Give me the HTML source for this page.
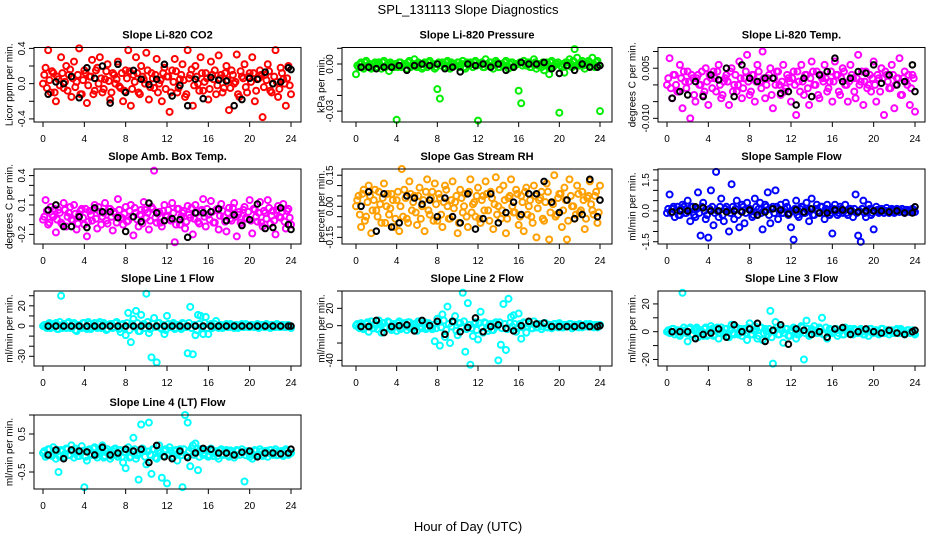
<!DOCTYPE html>
<html><head><meta charset="utf-8"><style>
body{margin:0;background:#fff;}
svg{display:block;font-family:"Liberation Sans",sans-serif;}
</style></head><body>
<svg id="chart" width="936" height="540" viewBox="0 0 936 540" xmlns="http://www.w3.org/2000/svg">
<rect x="0" y="0" width="936" height="540" fill="#fff"/>
<text x="468" y="14" text-anchor="middle" font-size="13">SPL_131113  Slope Diagnostics</text>
<text x="468" y="531" text-anchor="middle" font-size="13">Hour of Day (UTC)</text>
</svg>
<script>
const hours = [0,0.25,0.5,0.75,1,1.25,1.5,1.75,2,2.25,2.5,2.75,3,3.25,3.5,3.75,4,4.25,4.5,4.75,5,5.25,5.5,5.75,6,6.25,6.5,6.75,7,7.25,7.5,7.75,8,8.25,8.5,8.75,9,9.25,9.5,9.75,10,10.25,10.5,10.75,11,11.25,11.5,11.75,12,12.25,12.5,12.75,13,13.25,13.5,13.75,14,14.25,14.5,14.75,15,15.25,15.5,15.75,16,16.25,16.5,16.75,17,17.25,17.5,17.75,18,18.25,18.5,18.75,19,19.25,19.5,19.75,20,20.25,20.5,20.75,21,21.25,21.5,21.75,22,22.25,22.5,22.75,23,23.25,23.5,23.75,24];
const hours2 = [0.125,0.375,0.625,0.875,1.125,1.375,1.625,1.875,2.125,2.375,2.625,2.875,3.125,3.375,3.625,3.875,4.125,4.375,4.625,4.875,5.125,5.375,5.625,5.875,6.125,6.375,6.625,6.875,7.125,7.375,7.625,7.875,8.125,8.375,8.625,8.875,9.125,9.375,9.625,9.875,10.125,10.375,10.625,10.875,11.125,11.375,11.625,11.875,12.125,12.375,12.625,12.875,13.125,13.375,13.625,13.875,14.125,14.375,14.625,14.875,15.125,15.375,15.625,15.875,16.125,16.375,16.625,16.875,17.125,17.375,17.625,17.875,18.125,18.375,18.625,18.875,19.125,19.375,19.625,19.875,20.125,20.375,20.625,20.875,21.125,21.375,21.625,21.875,22.125,22.375,22.625,22.875,23.125,23.375,23.625,23.875];
const blackHours = [0.5,1.25,2.0,2.75,3.5,4.25,5.0,5.75,6.5,7.25,8.0,8.75,9.5,10.25,11.0,11.75,12.5,13.25,14.0,14.75,15.5,16.25,17.0,17.75,18.5,19.25,20.0,20.75,21.5,22.25,23.0,23.75,24.0];
const xTicks = [0,4,8,12,16,20,24];

const co2 = [0.0,0.18,0.38,-0.1,0.12,-0.2,0.05,0.3,-0.05,0.2,0.1,-0.15,0.25,0.02,0.4,-0.12,0.15,
-0.22,0.08,0.27,-0.08,0.18,0.3,-0.1,0.05,0.22,-0.18,0.12,0.0,0.25,-0.05,-0.2,0.15,
0.38,-0.25,0.1,0.3,-0.1,0.2,0.05,0.35,-0.18,0.12,-0.05,0.28,0.0,-0.2,0.18,0.08,
-0.32,0.15,0.28,-0.1,0.05,0.22,-0.15,0.38,0.1,-0.25,0.2,0.0,0.3,-0.08,0.12,-0.18,
0.25,0.05,-0.12,0.32,0.1,-0.05,0.2,-0.3,0.15,0.0,0.33,-0.15,0.08,0.22,-0.1,0.12,
0.3,-0.2,0.05,0.15,-0.38,0.1,0.22,-0.08,0.0,0.38,-0.15,0.18,0.05,-0.25,0.2,-0.12];
const co2B = [0.1,-0.05,0.04,0.14,-0.1,0.08,-0.02,0.12,0.02,-0.08,0.16,0.06,-0.04,0.1,-0.12,0.04,
0.12,-0.02,0.08,-0.12,0.15,0.0,0.06,-0.06,0.14,0.03,-0.1,0.1,0.05,-0.03,0.12,-0.08,
0.06,0.14,-0.06,0.02,0.12,-0.12,0.08,0.0,0.15,-0.04,0.06,0.1,-0.1,0.04,0.12,-0.06,
0.08,-0.1,0.02,0.14,-0.05,0.1,0.04,-0.12,0.06,0.16,-0.02,0.08,-0.08,0.12,0.02,0.06,
-0.06,0.1,0.15,-0.02,0.06,-0.1,0.12,0.04,-0.05,0.1,0.02,-0.12,0.14,0.06,-0.04,0.08,
0.02,0.12,-0.08,0.06,0.1,-0.04,0.04,0.14,-0.1,0.08,0.02,-0.06,0.12,0.0,0.06,-0.02];
const co2Black = [-0.12,0.02,0.0,0.08,-0.16,0.18,0.06,0.2,-0.22,0.22,-0.1,0.15,0.05,-0.01,0.05,0.22,-0.14,-0.02,-0.25,0.05,-0.17,0.07,0.04,0.03,-0.25,-0.18,0.06,0.05,0.13,0.0,0.02,0.18,0.16];

const pressure = [-0.0065,-0.002,0.001,-0.003,0.002,-0.001,-0.003,0.0,-0.002,0.001,-0.003,0.002,-0.001,-0.0045,0.0,-0.002,-0.0355,
0.001,-0.002,0.0,-0.003,0.002,-0.001,0.003,-0.002,0.0,-0.003,0.001,-0.002,0.002,-0.001,-0.003,-0.016,
-0.022,0.001,-0.002,0.002,-0.003,0.0,-0.001,0.001,-0.002,0.002,-0.003,0.0,0.001,-0.002,0.002,-0.036,
0.0,-0.002,0.003,-0.001,0.001,-0.003,0.002,-0.002,0.0,-0.001,0.002,-0.003,0.001,-0.002,0.0,-0.017,
-0.025,0.002,-0.001,0.001,-0.002,0.003,-0.003,0.0,-0.002,-0.004,0.001,-0.0065,0.002,-0.001,0.0,-0.031,
-0.002,-0.0055,0.001,0.003,-0.002,0.0095,0.004,-0.001,0.002,-0.003,0.0,0.001,0.004,-0.002,0.002,-0.03];
const pressureB = [-0.001,0.0,-0.002,0.001,-0.001,0.0,-0.002,0.001,0.0,-0.001,0.001,-0.002,0.0,0.001,-0.001,0.0,
-0.002,0.001,-0.001,0.0,0.001,-0.002,0.0,-0.001,0.001,0.0,-0.002,0.0,0.001,-0.001,0.0,-0.002,
0.001,-0.001,0.0,0.001,-0.002,0.001,0.0,-0.001,0.001,0.0,-0.002,0.001,-0.001,0.0,0.001,-0.001,
0.0,0.001,-0.002,0.0,0.001,-0.001,0.0,0.001,-0.002,0.0,0.001,-0.001,0.0,0.001,-0.001,0.0,
0.001,-0.001,0.0,0.001,-0.002,0.0,0.001,-0.001,0.0,0.001,-0.001,0.0,0.001,-0.002,0.0,0.001,
-0.001,0.0,0.001,-0.001,0.0,0.002,-0.001,0.0,0.001,-0.001,0.0,0.002,-0.001,0.0,0.001,-0.001];
const pressureBlack = [-0.002,-0.002,-0.003,-0.002,-0.002,-0.001,-0.004,-0.001,0.0,-0.001,0.0,-0.003,-0.002,-0.005,0.0,-0.001,0.0,-0.002,0.0,-0.004,-0.002,0.001,0.0,0.0,0.001,-0.003,-0.006,-0.001,-0.004,0.0,-0.002,-0.002,-0.001];

const licorTemp = [0.0,0.008,-0.004,0.003,-0.002,0.006,-0.007,0.001,0.004,-0.01,0.002,-0.005,0.003,0.0,-0.003,0.005,-0.006,
0.002,0.004,-0.002,0.006,-0.004,0.001,0.003,-0.006,0.005,0.0,-0.002,0.007,-0.004,0.002,0.009,-0.003,
0.003,-0.005,0.006,0.001,0.01,-0.004,0.002,0.005,-0.007,0.0,0.004,-0.003,0.006,-0.001,0.002,-0.005,
0.004,-0.009,0.001,0.006,-0.003,0.003,-0.006,0.007,0.0,0.004,-0.004,0.002,0.006,-0.002,0.001,-0.005,
0.007,0.003,-0.003,0.005,0.0,-0.005,0.006,0.002,-0.004,0.009,0.001,-0.006,0.004,0.0,-0.002,0.007,
-0.005,0.002,0.005,-0.009,0.003,-0.001,0.006,-0.007,0.002,0.008,-0.003,0.004,0.0,-0.006,0.003,-0.008];
const licorTempB = [0.002,-0.001,0.003,0.0,-0.002,0.002,0.004,-0.001,0.001,0.003,-0.003,0.002,0.0,0.004,-0.002,0.001,
0.003,-0.001,0.002,0.004,0.0,-0.003,0.002,0.001,0.004,-0.002,0.003,0.0,0.002,-0.001,0.004,0.001,
-0.002,0.003,0.001,0.004,-0.001,0.002,0.0,0.003,-0.003,0.002,0.004,0.0,0.001,-0.002,0.003,0.001,
0.002,0.0,0.004,-0.002,0.001,0.003,-0.001,0.002,0.004,0.0,-0.003,0.003,0.001,0.002,-0.001,0.004,
0.001,0.003,-0.002,0.002,0.004,0.0,0.001,0.003,-0.002,0.002,0.0,0.004,0.001,-0.001,0.003,0.002,
0.0,0.003,-0.002,0.002,0.004,0.001,-0.001,0.003,0.0,0.002,-0.003,0.002,0.001,0.003,-0.001,0.002];
const licorTempBlack = [-0.004,-0.002,-0.003,0.001,-0.0035,0.003,0.0015,0.005,-0.0035,0.006,0.002,0.001,0.002,0.002,-0.0025,-0.002,-0.006,0.002,-0.0035,0.003,0.004,0.008,0.001,0.002,0.004,0.0035,0.006,0.0005,0.003,0.0,0.001,0.006,-0.002];

const ambTemp = [-0.05,0.15,-0.1,0.08,-0.02,-0.18,0.05,-0.08,0.12,-0.12,0.02,-0.05,0.1,-0.15,0.0,0.06,-0.1,
-0.22,0.04,-0.06,0.1,-0.14,0.03,-0.02,0.12,-0.09,0.06,-0.16,0.01,0.16,-0.04,-0.1,0.08,
-0.06,0.1,-0.21,0.02,-0.12,0.05,0.13,-0.03,-0.15,0.08,0.45,-0.08,0.03,-0.12,0.1,-0.02,
-0.05,0.12,-0.28,0.06,-0.1,0.02,-0.14,0.09,-0.03,-0.2,0.1,-0.07,0.04,0.16,-0.12,0.0,
0.14,-0.08,0.05,-0.15,0.11,-0.02,-0.17,0.07,-0.06,0.12,-0.22,0.03,-0.1,0.08,-0.04,0.15,
-0.19,0.05,-0.07,0.13,-0.12,0.02,0.15,-0.09,0.04,-0.2,0.09,-0.03,0.11,-0.14,0.06,-0.1];
const ambTempB = [-0.02,0.04,-0.08,0.0,0.06,-0.05,0.02,-0.1,0.05,-0.02,0.08,-0.06,0.01,-0.09,0.04,-0.03,
0.06,-0.07,0.0,0.05,-0.04,0.08,-0.1,0.02,-0.06,0.06,-0.02,0.03,-0.08,0.05,-0.03,0.01,
-0.07,0.04,-0.02,0.07,-0.05,0.0,-0.09,0.05,0.02,-0.06,0.06,-0.03,0.01,-0.08,0.04,-0.01,
0.05,-0.06,0.02,-0.1,0.06,-0.02,0.04,-0.07,0.0,0.07,-0.04,0.02,-0.09,0.05,-0.02,0.06,
-0.05,0.03,-0.08,0.06,-0.01,0.04,-0.07,0.02,-0.04,0.07,-0.02,0.0,-0.08,0.05,-0.03,0.03,
-0.06,0.06,-0.02,0.02,-0.08,0.04,-0.04,0.07,-0.01,-0.06,0.05,-0.02,0.03,-0.07,0.04,-0.03];
const ambTempBlack = [0.05,0.1,-0.12,-0.12,-0.02,-0.13,0.07,0.03,0.03,-0.03,-0.17,-0.02,-0.07,0.12,0.02,-0.06,-0.04,-0.05,-0.23,0.02,0.02,0.03,0.06,-0.06,0.0,-0.11,-0.05,0.11,-0.14,-0.13,0.07,-0.1,-0.15];

const gasRH = [0.0,0.05,-0.1,0.08,-0.05,0.1,-0.13,0.03,-0.02,0.07,-0.08,0.11,0.0,-0.04,0.06,-0.1,0.03,
-0.12,0.18,0.08,-0.06,0.12,-0.02,0.05,-0.09,0.09,0.0,-0.12,0.13,-0.04,0.07,0.11,-0.07,
0.04,-0.1,0.1,0.0,-0.06,0.12,0.02,-0.13,0.08,-0.03,0.06,-0.1,0.13,0.01,-0.05,0.09,
-0.08,0.05,0.12,-0.02,0.07,-0.11,0.14,0.0,-0.06,0.1,-0.13,0.04,0.13,-0.03,0.08,-0.09,
0.05,-0.12,0.09,0.0,-0.05,0.1,-0.15,0.03,0.07,-0.07,0.11,-0.16,0.02,0.15,-0.04,0.06,
-0.1,0.09,-0.16,0.13,0.0,-0.06,0.1,-0.03,0.07,-0.11,0.04,0.12,-0.02,0.05,-0.08,0.1];
const gasRHB = [0.03,-0.04,0.06,-0.07,0.02,0.05,-0.02,0.08,-0.05,0.01,0.04,-0.08,0.06,-0.01,0.03,-0.06,
0.07,0.0,-0.05,0.04,-0.08,0.06,0.02,-0.03,0.05,-0.06,0.03,0.07,-0.02,0.04,-0.07,0.01,
0.06,-0.04,0.02,0.08,-0.06,0.03,-0.01,0.05,-0.08,0.04,0.0,-0.05,0.07,-0.03,0.02,0.05,
-0.06,0.03,-0.02,0.06,-0.07,0.04,0.01,-0.04,0.08,-0.02,0.03,-0.06,0.05,0.0,-0.03,0.06,
-0.05,0.02,0.07,-0.04,0.03,-0.08,0.05,-0.01,0.04,-0.06,0.02,0.07,-0.03,0.01,-0.05,0.04,
0.06,-0.02,0.03,-0.07,0.05,0.0,-0.04,0.06,-0.02,0.03,-0.06,0.05,0.01,-0.04,0.07,-0.03];
const gasRHBlack = [0.0,0.07,-0.12,0.06,-0.1,-0.08,0.05,0.04,0.01,0.03,-0.05,0.04,-0.05,-0.08,0.06,-0.11,-0.06,0.06,-0.08,-0.03,0.02,-0.04,0.06,0.06,0.12,0.02,-0.03,0.03,-0.06,-0.04,0.13,-0.05,0.03];

const sampleFlow = [-0.1,0.8,0.1,-0.3,0.2,-0.2,0.3,-0.1,0.5,-0.5,0.2,-0.3,0.9,-1.2,0.4,-0.4,-1.3,
1.0,-0.7,1.9,-0.3,0.6,-0.5,0.2,-1.0,1.3,-0.4,0.5,-0.8,0.3,-0.6,0.4,0.1,
-0.3,0.6,-0.2,0.4,-0.9,0.3,0.9,-0.6,0.2,1.0,-0.4,0.3,-0.1,0.4,-0.2,-0.8,
-1.4,0.5,-0.3,0.2,-0.1,0.4,-0.5,0.6,-0.2,0.3,-0.1,0.2,-0.4,0.3,-0.2,-1.1,
0.3,-0.2,0.2,-0.1,0.3,-0.2,0.1,-0.3,0.8,-1.2,-1.5,0.5,-0.3,0.3,-0.2,-0.9,
0.2,-0.1,0.1,-0.1,0.15,-0.1,0.1,-0.1,0.1,-0.05,0.1,-0.1,0.05,-0.05,0.1,-0.05];
const sampleFlowB = [0.1,-0.1,0.2,0.0,-0.2,0.1,0.2,-0.1,0.0,0.2,-0.2,0.1,-0.1,0.2,0.0,-0.2,
0.1,0.2,-0.1,0.0,0.2,-0.2,0.1,0.0,-0.1,0.2,0.1,-0.2,0.0,0.2,-0.1,0.1,
0.0,-0.2,0.2,0.1,-0.1,0.0,0.2,-0.2,0.1,-0.1,0.2,0.0,-0.1,0.1,0.2,-0.1,
0.0,0.1,-0.2,0.1,0.2,-0.1,0.0,0.1,-0.2,0.1,0.0,0.2,-0.1,0.1,0.0,-0.1,
0.1,0.0,-0.1,0.1,0.0,-0.1,0.1,0.0,0.1,-0.1,0.0,0.1,-0.1,0.0,0.1,-0.1,
0.0,0.05,-0.05,0.05,0.0,-0.05,0.05,0.0,-0.05,0.05,0.0,-0.05,0.05,0.0,-0.05,0.05];
const sampleFlowBlack = [-0.05,0.0,0.0,0.2,0.15,0.0,0.0,-0.05,0.0,-0.05,0.05,-0.2,-0.05,0.1,0.05,-0.15,0.05,-0.05,0.1,-0.1,-0.1,0.05,0.05,0.0,-0.05,0.0,0.0,0.0,-0.05,0.0,-0.1,-0.1,0.2];

const line1 = [0,-1,2,-2,1,3,-3,30,2,-2,4,-1,3,-5,1,-2,3,
-3,2,-1,3,-2,4,-1,1,-3,2,-2,3,-1,-6,2,-9,
13,-16,7,15,-5,11,2,32,-7,-31,8,-36,3,-3,-8,10,
-1,2,-3,1,-2,3,-1,-27,19,-28,-9,11,10,-8,9,-8,
2,-1,5,-2,1,-1,2,-1,1,-2,1,-1,2,-1,1,-1,
1,-1,2,-1,1,-1,1,-2,1,-1,1,-1,1,-1,1,-2];
const line1B = [1,-2,3,-1,2,-3,4,-2,1,3,-2,2,-4,1,-1,3,
-2,4,-3,1,-1,2,-2,3,-4,1,2,-1,4,-3,1,-2,
3,-4,2,-1,3,-5,1,-2,4,-3,2,-1,3,-2,1,-4,
2,-1,3,-2,1,-3,2,-1,3,-2,1,-4,2,-1,3,-2,
1,-2,2,-1,1,-2,1,-1,2,-1,1,-2,1,-1,2,-1,
1,-1,1,-2,1,-1,2,-1,1,-1,2,-1,1,-1,1,-1];
const line1Black = [0,0,0,0,0,0,0,0,0,0,0,0,0,0,0,0,0,0,0,0,0,0,0,0,0,0,0,0,0,0,0,0,0];

const line2 = [0,-2,3,-4,2,-7,5,-3,1,6,-8,3,-2,4,-5,2,-6,
5,-2,3,-5,4,-1,2,-6,3,-3,4,-2,1,-4,-18,8,
-23,13,-13,22,-20,5,11,-11,3,38,-30,26,-45,-12,4,-16,
16,-8,3,-6,2,-5,4,-40,-22,25,-28,31,10,12,-7,14,
-15,4,-8,3,-3,5,-2,2,-4,3,-2,1,-3,2,-1,3,
-2,1,-1,2,-3,1,-1,2,-2,1,-1,2,-1,1,-2,1];
const line2B = [2,-3,1,-2,4,-1,-3,2,-4,1,3,-2,5,-3,1,-1,
3,-4,2,-1,4,-3,1,-2,5,-1,2,-4,3,-2,1,-3,
4,-2,6,-5,2,-1,4,-6,3,-2,5,-4,1,-3,2,-5,
3,-2,4,-3,1,-5,2,-1,4,-3,2,-4,3,-1,2,-3,
2,-2,3,-1,2,-3,1,-2,2,-1,3,-2,1,-1,2,-2,
1,-2,1,-1,2,-1,1,-2,1,-1,2,-1,1,-2,1,-1];
const line2Black = [-1,-1,6,-8,-1,0,1,-6,6,0,5,-10,5,-7,-2,9,-7,-1,1,-3,-6,0,5,2,3,-1,-1,-1,-1,0,-1,-1,0];

const line3 = [0,-1,2,-2,1,-3,28,1,-7,3,-2,2,-4,1,-3,3,-2,
4,-3,2,-5,3,-1,2,-4,5,-2,3,-1,-3,2,-6,6,
-2,4,-5,3,-6,2,-2,15,-23,7,-2,3,-8,2,-3,1,
3,-5,-2,4,-20,8,-3,2,4,-1,3,10,-2,-5,2,-1,
2,-3,1,-2,3,-1,2,-2,1,-1,2,-2,1,-3,2,-1,
1,-2,2,-1,1,-2,1,-1,2,-1,1,-2,1,-1,1,-2];
const line3B = [1,-1,2,0,-2,1,3,-1,2,-2,1,3,-1,0,2,-3,
1,2,-2,3,-1,0,2,-3,1,-1,3,-2,2,0,-1,3,
-2,1,2,-3,3,-1,0,2,-4,1,3,-2,1,-1,2,-3,
1,2,-2,0,3,-1,2,-2,1,0,-1,2,-2,3,-1,1,
0,2,-1,1,-2,2,0,-1,2,-1,1,0,-2,1,2,-1,
1,0,-1,2,-1,1,0,-1,1,-1,2,0,-1,1,0,-1];
const line3Black = [0,0,0,-5,-2,-1,2,-4,5,0,2,6,-7,1,5,-9,2,1,-2,0,-4,2,3,-2,0,2,0,-1,1,-1,-2,0,1];

const line4 = [0.0,-0.1,0.1,-0.05,0.15,-0.15,-0.5,0.08,-0.1,0.12,-0.05,0.2,-0.12,0.05,-0.08,0.18,-0.9,
-0.2,0.1,-0.05,0.15,-0.12,0.05,0.2,-0.08,0.1,-0.15,0.05,0.12,-0.1,0.08,-0.25,-0.4,
0.15,-0.1,0.4,-0.15,-0.7,0.75,0.05,-0.3,0.8,-0.55,0.1,-0.15,0.2,-0.65,0.05,-0.8,
0.15,-0.1,0.05,-0.2,0.1,-0.9,1.0,0.8,-0.35,0.2,0.25,-0.45,0.1,-0.05,0.08,-0.1,
0.12,-0.08,0.05,-0.15,0.1,-0.05,0.08,-0.1,0.05,-0.12,0.08,-0.05,0.1,-0.75,0.05,-0.1,
-0.15,0.08,-0.05,0.1,-0.08,0.05,-0.1,0.08,-0.05,0.1,-0.05,0.05,-0.08,0.1,-0.05,0.0];
const line4B = [0.05,-0.05,0.1,-0.08,0.02,0.08,-0.1,0.05,-0.02,0.1,-0.06,0.04,0.12,-0.08,0.0,0.06,
-0.1,0.08,-0.03,0.12,-0.06,0.02,0.1,-0.12,0.05,0.0,-0.08,0.1,-0.04,0.06,-0.1,0.02,
0.08,-0.12,0.05,0.1,-0.06,0.0,0.12,-0.1,0.04,-0.05,0.1,-0.12,0.06,0.0,-0.08,0.1,
-0.04,0.06,-0.1,0.08,0.0,-0.06,0.1,-0.08,0.04,0.12,-0.05,0.02,-0.1,0.06,0.0,0.08,
-0.06,0.05,0.0,-0.08,0.06,-0.03,0.04,-0.06,0.07,0.0,-0.05,0.06,-0.04,0.03,-0.06,0.05,
0.02,-0.06,0.06,-0.03,0.04,-0.05,0.06,0.0,-0.04,0.05,-0.06,0.03,0.05,-0.04,0.06,-0.02];
const line4Black = [-0.05,0.08,-0.15,0.08,0.05,0.03,-0.05,0.15,-0.05,0.0,0.1,0.05,0.1,-0.25,0.2,-0.1,-0.15,0.05,-0.12,0.0,0.12,0.1,0.0,0.0,-0.05,0.02,0.05,-0.1,0.0,0.0,-0.02,0.0,0.1];

const titles = ["Slope Li-820 CO2","Slope Li-820 Pressure","Slope Li-820 Temp.","Slope Amb. Box Temp.","Slope Gas Stream RH","Slope Sample Flow","Slope Line 1 Flow","Slope Line 2 Flow","Slope Line 3 Flow","Slope Line 4 (LT) Flow"];
const yTitles = ["Licor ppm per min.","kPa per min.","degrees C per min.","degrees C per min.","percent per min.","ml/min per min.","ml/min per min.","ml/min per min.","ml/min per min.","ml/min per min."];
const yTicks = [[-0.4,-0.2,0,0.2,0.4],[-0.03,-0.02,-0.01,0,0.01],[-0.01,-0.005,0,0.005,0.01],[-0.2,-0.1,0,0.1,0.2,0.3,0.4],[-0.15,-0.1,-0.05,0,0.05,0.1,0.15],[-1.5,-1,-0.5,0,0.5,1,1.5,2],[-30,-20,-10,0,10,20,30],[-40,-20,0,20,40],[-20,-10,0,10,20],[-1,-0.5,0,0.5,1]];
const yTickLabels = [["-0.4","","0.0","","0.4"],["-0.03","","","0.00",""],["-0.010","","","0.005",""],["-0.2","","","0.1","","","0.4"],["-0.15","","","0.00","","","0.15"],["-1.5","","","0.0","","","1.5",""],["-30","","","0","","20",""],["-40","","0","20",""],["-20","","0","","20"],["","-0.5","","0.5",""]];
const yRanges = [[-0.435,0.41],[-0.0369,0.0105],[-0.0111,0.0112],[-0.298,0.467],[-0.182,0.18],[-1.61,2.04],[-39.6,34.7],[-46.5,40],[-24.7,29.3],[-0.947,1.0]];
const colorSeries = [co2,pressure,licorTemp,ambTemp,gasRH,sampleFlow,line1,line2,line3,line4];
const colorSeriesB = [co2B,pressureB,licorTempB,ambTempB,gasRHB,sampleFlowB,line1B,line2B,line3B,line4B];
const blackSeries = [co2Black,pressureBlack,licorTempBlack,ambTempBlack,gasRHBlack,sampleFlowBlack,line1Black,line2Black,line3Black,line4Black];
const seriesColors = ["#ff0000","#00ee00","#ff00ff","#ff00ff","#ffa000","#0000ff","#00ffff","#00ffff","#00ffff","#00ffff"];

const NS = "http://www.w3.org/2000/svg";
const svg = document.getElementById("chart");
const cols = [{l:34,r:301,x0:43,x24:291,yl:10},{l:342,r:612,x0:356,x24:600,yl:322},{l:658,r:925,x0:667,x24:915,yl:633}];
const rowsTop = [47.5,169,291,415];
const rowsBot = [122,244,366,489];
function mk(tag, attrs, parent){const e=document.createElementNS(NS,tag);for(const k in attrs)e.setAttribute(k,attrs[k]);(parent||svg).appendChild(e);return e;}

for(let p=0;p<10;p++){
  const c = cols[p%3], r = Math.floor(p/3);
  const top = rowsTop[r], bot = rowsBot[r];
  const [ymin,ymax] = yRanges[p];
  const xs = h => c.x0 + (h/24)*(c.x24-c.x0);
  const ys = v => bot - (v-ymin)/(ymax-ymin)*(bot-top);
  const g = mk("g",{});
  
  
  const t = mk("text",{x:(c.l+c.r)/2,y:top-9,"text-anchor":"middle","font-size":"11","font-weight":"bold"},g);
  t.textContent = titles[p];
  
  
  const cy=(top+bot)/2;
  const yt = mk("text",{x:c.yl,y:cy,"text-anchor":"middle","font-size":"10","dominant-baseline":"central",transform:`rotate(-90 ${c.yl} ${cy})`},g);
  yt.textContent = yTitles[p];
  
  
  const nB = Math.min(hours2.length, colorSeriesB[p].length);
  for(let i=0;i<nB;i++){
    const pt = mk("circle",{cx:xs(hours2[i]),cy:ys(colorSeriesB[p][i]),r:3,fill:"none",stroke:seriesColors[p],"stroke-width":2},g);
    
    
  }
  const n = Math.min(hours.length, colorSeries[p].length);
  for(let i=0;i<n;i++){
    const pt = mk("circle",{cx:xs(hours[i]),cy:ys(colorSeries[p][i]),r:3,fill:"none",stroke:seriesColors[p],"stroke-width":2},g);
    
    
  }
  const nb = Math.min(blackHours.length, blackSeries[p].length);
  for(let i=0;i<nb;i++){
    const pt = mk("circle",{cx:xs(blackHours[i]),cy:ys(blackSeries[p][i]),r:2.8,fill:"none",stroke:"#000","stroke-width":2},g);
    
    
  }
  const box = mk("rect",{x:c.l,y:top,width:c.r-c.l,height:bot-top,fill:"none",stroke:"#000","stroke-width":1},g);
  
  
  xTicks.forEach(h=>{
    const x=xs(h);
    mk("line",{x1:x,x2:x,y1:bot,y2:bot+5,stroke:"#000"},g);
    const lt=mk("text",{x:x,y:bot+20,"text-anchor":"middle","font-size":"10"},g);
    lt.textContent=String(h);
    
    
  });
  yTicks[p].forEach((v,k)=>{
    const y=ys(v);
    if(y<top-2||y>bot+2) return;
    mk("line",{x1:c.l-5,x2:c.l,y1:y,y2:y,stroke:"#000"},g);
    const lab=yTickLabels[p][k];
    if(lab){
      const lx=c.l-9;
      const lt=mk("text",{x:lx,y:y,"text-anchor":"middle","font-size":"10",transform:`rotate(-90 ${lx} ${y})`},g);
      lt.textContent=lab;
      
      
    }
  });
}
</script>
</body></html>
